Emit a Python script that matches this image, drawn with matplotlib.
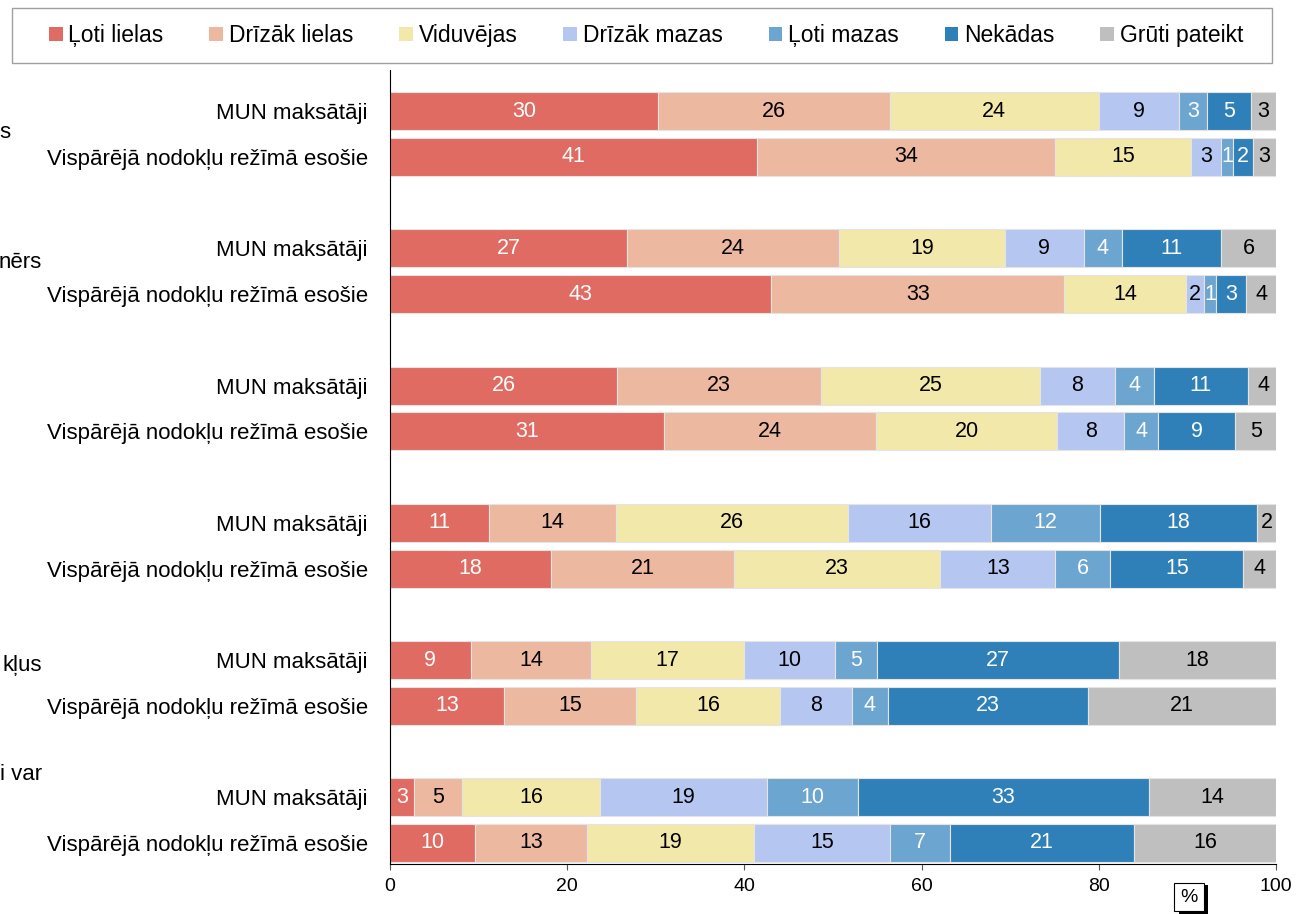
import numpy as np
import matplotlib.pyplot as plt
from matplotlib.patches import Patch, Rectangle
import matplotlib.patheffects as pe

plt.rcParams['font.family'] = ['Liberation Sans', 'DejaVu Sans']

# rows: 6 groups x (MUN maksātāji, Vispārējā nodokļu režīmā esošie)
row_labels = ['MUN maksātāji', 'Vispārējā nodokļu režīmā esošie'] * 6

series_names = ['Ļoti lielas', 'Drīzāk lielas', 'Viduvējas', 'Drīzāk mazas',
                'Ļoti mazas', 'Nekādas', 'Grūti pateikt']
loti_lielas = [30.2, 41.4, 26.8, 43.0, 25.6, 30.9, 11.2, 18.2, 9.1, 12.9, 2.7, 9.6]
drizak_lielas = [26.2, 33.7, 23.9, 33.1, 23.0, 24.0, 14.3, 20.6, 13.6, 14.9, 5.4, 12.6]
viduvejas = [23.6, 15.3, 18.7, 13.7, 24.8, 20.4, 26.2, 23.3, 17.2, 16.2, 15.6, 18.9]
drizak_mazas = [9.1, 3.4, 8.9, 2.1, 8.4, 7.6, 16.1, 13.0, 10.3, 8.1, 18.8, 15.3]
loti_mazas = [3.1, 1.4, 4.3, 1.3, 4.4, 3.8, 12.3, 6.2, 4.8, 4.1, 10.3, 6.8]
nekadas = [5.0, 2.2, 11.2, 3.4, 10.6, 8.7, 17.8, 15.0, 27.3, 22.6, 32.9, 20.8]
gruti_pateikt = [2.8, 2.6, 6.2, 3.5, 3.6, 4.7, 2.1, 3.7, 17.7, 21.2, 14.3, 16.0]

# visible (clipped) ends of the group labels on the far left
group_tails = ['s', 'nērs', '', '', 'kļus', 'i var']

series = [loti_lielas, drizak_lielas, viduvejas, drizak_mazas,
          loti_mazas, nekadas, gruti_pateikt]
colors = ['#E06B62', '#EDB8A0', '#F2E8A9', '#B5C6F1', '#6CA5CF', '#2F80B8', '#BFBFBF']
text_colors = ['white', 'black', 'black', 'black', 'white', 'white', 'black']

fig = plt.figure(figsize=(12.96, 9.14), dpi=100)
ax = fig.add_axes([390 / 1296, 1 - 864 / 914, 886 / 1296, 794 / 914])

y = np.array([3 * (i // 2) + (i % 2) for i in range(len(row_labels))], dtype=float)
left = np.zeros(len(row_labels))
for vals, col, tcol in zip(series, colors, text_colors):
    vals = np.array(vals)
    ax.barh(y, vals, left=left, height=0.83, color=col,
            edgecolor='#E4E4E4', linewidth=0.8)
    for yy, l, v in zip(y, left, vals):
        ax.text(l + v / 2, yy, str(int(v + 0.5)), ha='center', va='center',
                color=tcol, fontsize=15.5)
    left += vals

ax.set_xlim(0, 100)
ax.set_ylim(16.46, -0.9)
ax.set_xticks(range(0, 101, 20))
ax.set_yticks(y)
ax.set_yticklabels(row_labels, fontsize=16)
ax.tick_params(axis='y', length=0, pad=16)
ax.tick_params(axis='x', labelsize=14, length=4, color='#555555', pad=6)
for s in ['top', 'right']:
    ax.spines[s].set_visible(False)
ax.spines['left'].set_color('black')
ax.spines['bottom'].set_color('black')

# clipped group labels
tail_y = [133, 262, None, None, 666, 775]
for t, ty in zip(group_tails, tail_y):
    if t:
        fig.text(42 / 1296 if t != 's' else 10 / 1296, 1 - ty / 914, t,
                 ha='right', va='center', fontsize=16)

# legend frame drawn separately (wider side padding than the legend's own)
fig.add_artist(Rectangle((12 / 1296, 1 - 63 / 914), 1260 / 1296, 55 / 914,
                         transform=fig.transFigure, facecolor='white',
                         edgecolor='#A0A0A0', linewidth=1.0))
handles = [Patch(facecolor=c, edgecolor='none') for c in colors]
leg = fig.legend(handles, series_names, ncol=7, loc='center',
                 bbox_to_anchor=(646 / 1296, 1 - 35.5 / 914),
                 fontsize=16.5, frameon=False,
                 handlelength=0.6, handleheight=0.6,
                 handletextpad=0.25, columnspacing=2.0)

pct = fig.text(1189 / 1296, 1 - 897 / 914, '%', ha='center', va='center', fontsize=14,
               bbox=dict(boxstyle='square,pad=0.3', facecolor='white',
                         edgecolor='black', linewidth=0.8))
pct.get_bbox_patch().set_path_effects([
    pe.SimplePatchShadow(offset=(3, -2), shadow_rgbFace='black', alpha=1),
    pe.Normal()])

fig.savefig('out.png', dpi=100)
